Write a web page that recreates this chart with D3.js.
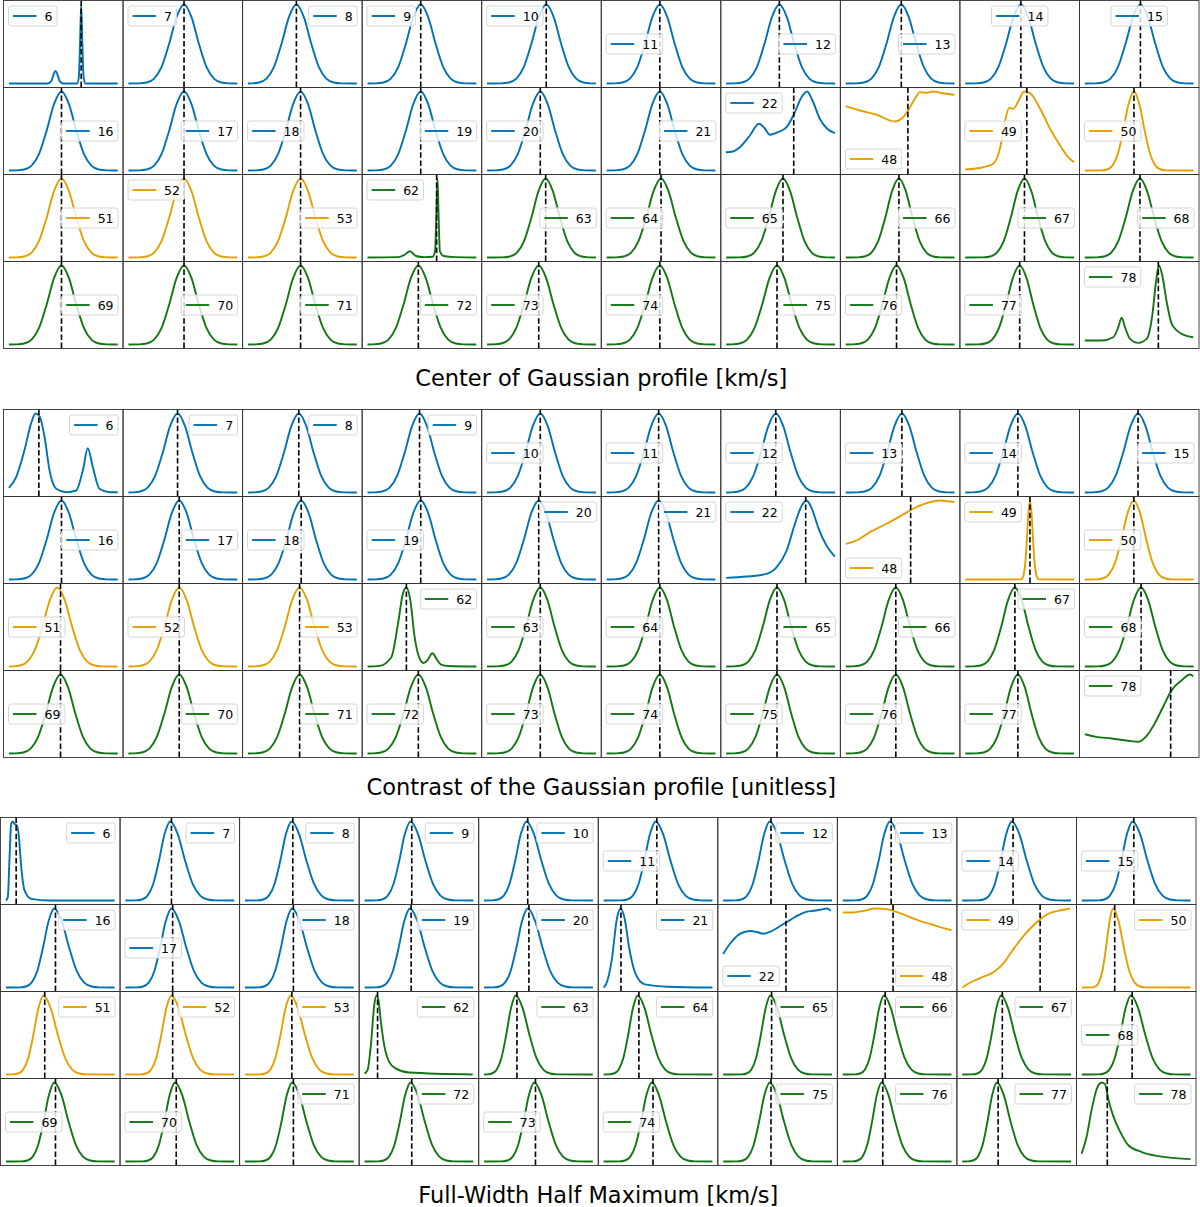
<!DOCTYPE html>
<html>
<head>
<meta charset="utf-8">
<script src="https://cdn.jsdelivr.net/npm/d3@7"></script>
<style>
  body { margin: 0; background: #fff; }
  svg { display: block; }
  text { font-family: "DejaVu Sans", sans-serif; }
</style>
</head>
<body>
<svg id="fig" width="1200" height="1207"></svg>
<script>
'use strict';

// panel labels, row by row (4 rows x 10 columns), same in each block
const labels = [6, 7, 8, 9, 10, 11, 12, 13, 14, 15,
                16, 17, 18, 19, 20, 21, 22, 48, 49, 50,
                51, 52, 53, 62, 63, 64, 65, 66, 67, 68,
                69, 70, 71, 72, 73, 74, 75, 76, 77, 78];

const titles = ["Center of Gaussian profile [km/s]",
                "Contrast of the Gaussian profile [unitless]",
                "Full-Width Half Maximum [km/s]"];

// shape of a single peak (offset in half widths -> height)
const bellOffset = [-3, -2.5, -2, -1.5, -1, -0.5, 0, 0.5, 1, 1.5, 2, 2.5, 3];
const bellHeight = [0.002, 0.013, 0.062, 0.21, 0.5, 0.84, 1, 0.84, 0.5, 0.21, 0.062, 0.013, 0.002];

// ---- Center of Gaussian profile ----  (x in % of the panel axis, y = height above zero)
const centerPeak = [null, 51, 45, 49, 54, 49, 49, 51, 51, 51,
                    48.5, 51, 48.5, 49, 49, 49, null, null, null, 45.6,
                    48.5, 51, 48.5, null, 53.5, 50, 52, 49, 54, 50.6,
                    48.5, 51, 48.5, 47, 47.7, 49, 47, 47, 50, null];
const centerLine = [65, 51, 45, 49, 54, 49, 49, 51, 51, 51,
                    48.5, 51, 48.5, 49, 49, 49, 61, 56.5, 56, 45.6,
                    48.5, 51, 48.5, 62.3, 53.5, 50, 52, 49, 54, 50.6,
                    48.5, 51, 48.5, 47, 47.7, 49, 47, 47, 50, 66];
const centerWidth = [0, 12.5, 12.5, 12.5, 12.5, 12.5, 12.5, 12.5, 12.5, 12.5,
                     12.5, 12.5, 12.5, 12.5, 12.5, 12.5, 0, 0, 0, 9,
                     12.5, 12.5, 12.5, 0, 12, 12.5, 12, 11.5, 11.5, 12,
                     12.5, 12.5, 12.5, 12.5, 12.5, 12.5, 12.5, 12, 11.5, 0];
const centerLegend = ['ul', 'ul', 'ur', 'ul', 'ul', 'cl', 'cr', 'cr', 'uc', 'uc',
                      'cr', 'cr', 'cl', 'cr', 'cl', 'cr', 'ul', 'll', 'cl', 'cl',
                      'cr', 'ul', 'cr', 'ul', 'cr', 'cl', 'cl', 'cr', 'cr', 'cr',
                      'cr', 'cr', 'cr', 'cr', 'cl', 'cl', 'cr', 'cl', 'cl', 'ul'];
const center6 = [[4.5, 0], [37, 0], [40, 0.03], [42, 0.12], [43.5, 0.16], [45, 0.12], [47, 0.03], [50, 0],
                 [61.5, 0], [63, 0.08], [64, 0.5], [65, 1], [66, 0.5], [67, 0.08], [68.5, 0], [95.5, 0]];
const center22 = [[4.2, 18.3], [10, 19], [15.9, 23.3], [24.3, 35], [32, 46.7], [36.8, 42], [41, 35.7], [47.7, 38.3],
                  [55, 43.3], [61, 55.7], [67.5, 73.3], [72.2, 79], [76.7, 70], [82.8, 51.7], [89, 41.7], [95.4, 37.3]];
const center48 = [[4.5, 64.3], [16.3, 60], [30.3, 55.7], [45.6, 49], [51.2, 51.7], [56.7, 60], [62.3, 71.7], [66.5, 78.3],
                  [72.1, 77.7], [77.7, 79], [83.3, 77.7], [88.9, 76.7], [95.5, 75.7]];
const center49 = [[4.5, 1], [19.5, 3.3], [27.9, 6.7], [33.5, 21.7], [37.7, 48.3], [41.3, 62.3], [44.6, 61], [48.8, 68.3],
                  [53.6, 78.3], [58.6, 76.7], [66.9, 61.7], [75.3, 41.7], [83.7, 25], [90.6, 13.3], [95.5, 8.3]];
const center62 = [[4.5, 0], [30, 0.005], [35, 0.03], [40, 0.08], [45, 0.02], [52, 0.005], [59, 0.01], [61, 0.08],
                  [62, 0.5], [63, 1], [64, 0.5], [65, 0.08], [68, 0.02], [78, 0.005], [95.5, 0]];
const center78 = [[4.5, 4], [18.6, 4], [28.3, 7.3], [32.5, 17.3], [35.3, 26.7], [38.1, 17.3], [42.3, 5.7], [49.2, 1.7],
                  [56.2, 5.7], [60.9, 29], [64, 62.3], [66.5, 79], [69.3, 69], [73, 42.3], [77.2, 20.7], [85.5, 10.7], [95.2, 7.3]];

// ---- Contrast of the Gaussian profile ----
const contrastPeak = [null, 45.6, 47, 48, 49, 48, 46, 51.5, 48.5, 49,
                      48.5, 47, 49, 49, 47.7, 48, null, null, 58.6, 45.5,
                      45, 47, 47.7, null, 49, 49, 47, 46.4, 46, 51.5,
                      47.7, 47, 47.7, 47, 49, 49, 47, 46.4, 48.5, null];
const contrastLine = [29.6, 45.6, 47, 48, 49, 48, 46, 51.5, 48.5, 49,
                      48.5, 47, 49, 49, 47.7, 48, 71, 58.8, 58.6, 45.5,
                      47.7, 47, 47.7, 37, 49, 49, 47, 46.4, 46, 51.5,
                      47.7, 47, 47.7, 47, 49, 49, 47, 46.4, 48.5, 76.3];
const contrastWidth = [0, 12.5, 12.5, 12.5, 12.5, 12.5, 12.5, 12.5, 12.5, 12.5,
                       12.5, 12.5, 12.5, 12.5, 12.5, 12.5, 0, 0, 2.6, 10.5,
                       12.5, 12.5, 12.5, 0, 12, 12, 12, 12, 11.5, 12,
                       12.5, 12.5, 12.5, 12.5, 12, 12, 12, 12, 11.5, 0];
const contrastLegend = ['ur', 'ur', 'ur', 'ur', 'cl', 'cl', 'cl', 'cl', 'cl', 'cr',
                        'cr', 'cr', 'cl', 'cl', 'ur', 'ur', 'ul', 'll', 'ul', 'cl',
                        'cl', 'cl', 'cr', 'ur', 'cl', 'cl', 'cr', 'cr', 'ur', 'cl',
                        'cl', 'cr', 'cr', 'cl', 'cl', 'cl', 'cl', 'cl', 'cl', 'ul'];
const contrast6 = [[4.5, 4.7], [10.6, 15.3], [17.6, 42], [23.2, 68.7], [26.8, 78], [30.1, 75.3], [34.3, 55.3], [38.5, 22],
                   [44.1, 3.7], [52.5, 0.3], [60.8, 2], [66.4, 22], [70.5, 43.7], [74.7, 25.3], [80.3, 3.7], [88.7, 0.3], [95.5, 0.3]];
const contrast22 = [[4.5, 1.7], [21.5, 3], [38.2, 5.7], [46.6, 12.3], [55, 29], [61.9, 55.7], [67.5, 74], [71.7, 79.7],
                    [75.9, 72.3], [81.5, 52.3], [88.5, 34], [95.4, 23]];
const contrast48 = [[4.6, 35.7], [13.5, 39], [24.7, 47.3], [38.7, 55.7], [52.6, 65], [60.9, 70.7], [72.1, 76.3],
                    [83.3, 79], [95.5, 77.3]];
const contrast62 = [[4.5, 0], [14.6, 0.7], [24.4, 9.3], [30, 42.7], [34.1, 72.7], [37, 78.7], [40.3, 66], [43.9, 29.3],
                    [48.1, 8], [51.5, 3.5], [55, 7], [58.7, 13.3], [62.5, 7], [66, 2], [72, 0.5], [95.5, 0]];
const contrast78 = [[4.5, 19.7], [13, 17.3], [27, 15.3], [40.8, 13], [49.2, 12], [56.2, 18], [63.2, 31.3], [70.1, 48],
                    [77.2, 64.7], [85.5, 74.7], [92.5, 80.7], [95.2, 78.7]];

// ---- Full-Width Half Maximum ----
const fwhmPeak = [null, 42, 43.5, 43, 40, 48, 43.5, 44, 46, 47,
                  45, 43, 44, 42.5, 41, null, null, null, null, 30.7,
                  36, 43, 42.7, null, 31, 33, 44, 39, 37, 45.6,
                  45, 46, 44, 43, 46.5, 44.8, 43.5, 37, 33.5, null];
const fwhmLine = [13.1, 43, 44.5, 44, 41, 49, 44.5, 45, 47, 48,
                  46, 44, 45, 43.5, 42, 19, 57, 46.6, 69.6, 32,
                  37, 44, 43.7, 15.4, 32, 34, 45, 40, 38, 46.6,
                  46, 47, 45, 44, 47.5, 45.8, 44.5, 38, 34.5, 25.8];
const fwhmWidthL = [0, 9.5, 9.5, 9.5, 9.5, 9.5, 9.5, 9.5, 9.5, 9.5,
                    9.5, 9.5, 9.5, 9.5, 9.5, 0, 0, 0, 0, 6,
                    8.5, 8.5, 8.5, 0, 8, 8, 8, 8, 8, 9,
                    9, 9, 9, 9, 9, 9, 9, 8, 8, 0];
const fwhmWidthR = [0, 12.5, 12.5, 12.5, 12.5, 12.5, 12.5, 12.5, 12.5, 12.5,
                    12.5, 12.5, 12.5, 12.5, 12.5, 0, 0, 0, 0, 9,
                    12, 12, 12, 0, 11.5, 11.5, 11.5, 11.5, 11.5, 12,
                    12, 12, 12, 12, 12, 12, 12, 11.5, 11.5, 0];
const fwhmLegend = ['ur', 'ur', 'ur', 'ur', 'ur', 'cl', 'ur', 'ur', 'cl', 'cl',
                    'ur', 'cl', 'ur', 'ur', 'ur', 'ur', 'll', 'lr', 'ul', 'ur',
                    'ur', 'ur', 'ur', 'ur', 'ur', 'ur', 'ur', 'ur', 'ur', 'cl',
                    'cl', 'cl', 'ur', 'ur', 'cl', 'cl', 'ur', 'ur', 'ur', 'ur'];
const fwhm6 = [[4.5, 0], [6.1, 10], [7.5, 120], [8.9, 225], [10.3, 232], [11.7, 225], [13.7, 220], [15.3, 190],
               [17.3, 100], [20.1, 30], [25.7, 5], [41, 0], [95.4, 0]];
const fwhm21 = [[4.5, 0], [6.5, 0.04], [11.4, 0.36], [15.6, 0.87], [18.8, 1], [22.1, 0.87], [26, 0.49], [30.8, 0.19],
                [39, 0.04], [58.4, 0.01], [95.5, 0]];
const fwhm22 = [[4.5, 100], [10.2, 130], [16.6, 155], [22.3, 165], [27.7, 168], [32.5, 165], [38.2, 160], [45.2, 168],
                [53.2, 185], [61.1, 202], [67.5, 215], [73.9, 225], [80.3, 228], [86.6, 232], [91.4, 235], [94.6, 228]];
const fwhm48 = [[4.5, 220], [13, 220], [22, 225], [31.5, 232], [41, 230], [47, 225], [57, 212], [69.5, 195],
                [79, 185], [88, 175], [95.5, 168]];
const fwhm49 = [[4.5, 0], [11.2, 15], [20.8, 30], [30.4, 45], [38.5, 70], [46.5, 110], [56.1, 155], [64.1, 185],
                [70.5, 205], [76.9, 220], [84.9, 228], [94.6, 235]];
const fwhm62 = [[4.5, 3], [7, 13], [9.8, 88], [12.6, 208], [14.5, 238], [16.2, 223], [18.2, 158], [21, 88],
                [25.1, 38], [30.7, 18], [41.9, 6], [95, 0]];
const fwhm78 = [[4.3, 23], [8.5, 73], [12.7, 153], [16.9, 213], [21.1, 233], [23.9, 228], [26.7, 183], [30.9, 133],
                [36.5, 88], [43.4, 48], [54.6, 28], [68.6, 16], [82.5, 10], [95.5, 7]];

const groupColor = d => d <= 22 ? "#0072b2" : (d <= 53 ? "#e69f00" : "#137513");

const blocks = [
  {title: titles[0], peak: centerPeak, line: centerLine, wl: centerWidth, wr: centerWidth, legend: centerLegend,
   special: {6: center6, 22: center22, 48: center48, 49: center49, 62: center62, 78: center78},
   left: 3.5, top: 0.5, titleY: 386},
  {title: titles[1], peak: contrastPeak, line: contrastLine, wl: contrastWidth, wr: contrastWidth, legend: contrastLegend,
   special: {6: contrast6, 22: contrast22, 48: contrast48, 62: contrast62, 78: contrast78},
   left: 3.5, top: 409.5, titleY: 795},
  {title: titles[2], peak: fwhmPeak, line: fwhmLine, wl: fwhmWidthL, wr: fwhmWidthR, legend: fwhmLegend,
   special: {6: fwhm6, 21: fwhm21, 22: fwhm22, 48: fwhm48, 49: fwhm49, 62: fwhm62, 78: fwhm78},
   left: 0.5, top: 817.5, titleY: 1203}
];

const colW = 119.55, rowH = 87;

function bellPoints(peak, wl, wr) {
  const pts = [[4.5, 0]];
  bellOffset.forEach((t, k) => {
    const xv = peak + t * (t < 0 ? wl : wr);
    if (xv > 4.5 && xv < 95.5) pts.push([xv, bellHeight[k]]);
  });
  pts.push([95.5, 0]);
  return pts;
}

const svg = d3.select("#fig");

function drawLegend(pg, loc, label, color, x0, y0) {
  const lg = pg.append("g");
  const box = lg.append("rect");
  const txt = lg.append("text")
      .attr("font-size", 12.5)
      .attr("fill", "#000")
      .attr("dominant-baseline", "central")
      .text(label);
  const tw = txt.node().getComputedTextLength();
  const bw = 4.5 + 23.5 + 8 + tw + 4.5, bh = 20;
  let bx, by;
  if (loc[1] === "l") bx = x0 + 5;
  else if (loc[1] === "r") bx = x0 + colW - 5 - bw;
  else bx = x0 + colW / 2 - bw / 2;
  if (loc[0] === "u") by = y0 + 5.5;
  else if (loc[0] === "l") by = y0 + rowH - 5.5 - bh;
  else by = y0 + rowH / 2 - bh / 2;
  box.attr("x", bx).attr("y", by).attr("width", bw).attr("height", bh)
     .attr("rx", 2.5)
     .attr("fill", "#fff").attr("fill-opacity", 0.8)
     .attr("stroke", "#d6d6d6").attr("stroke-width", 1);
  lg.append("line")
    .attr("x1", bx + 4.5).attr("x2", bx + 28)
    .attr("y1", by + bh / 2).attr("y2", by + bh / 2)
    .attr("stroke", color).attr("stroke-width", 1.9);
  txt.attr("x", bx + 36).attr("y", by + bh / 2 + 0.5);
}

blocks.forEach(b => {
  const bg = svg.append("g").attr("class", "block");
  labels.forEach((lab, i) => {
    const c = i % 10, r = Math.floor(i / 10);
    const x0 = b.left + c * colW, y0 = b.top + r * rowH;
    const pg = bg.append("g").attr("class", "panel");
    const color = groupColor(lab);

    const pts = b.special[lab] || bellPoints(b.peak[i], b.wl[i], b.wr[i]);
    // y axis runs from zero to the highest point, with 5% margins
    const ymax = d3.max(pts, d => d[1]);
    const xs = d3.scaleLinear().domain([0, 100]).range([x0, x0 + colW]);
    const ys = d3.scaleLinear().domain([-0.05 * ymax, 1.05 * ymax]).range([y0 + rowH, y0]);

    const line = d3.line()
        .x(d => xs(d[0]))
        .y(d => ys(d[1]))
        .curve(d3.curveMonotoneX);

    pg.append("path")
      .datum(pts)
      .attr("d", line)
      .attr("fill", "none")
      .attr("stroke", color)
      .attr("stroke-width", 1.9)
      .attr("stroke-linejoin", "round");

    pg.append("line")
      .attr("x1", xs(b.line[i])).attr("x2", xs(b.line[i]))
      .attr("y1", y0).attr("y2", y0 + rowH)
      .attr("stroke", "#000")
      .attr("stroke-width", 1.6)
      .attr("stroke-dasharray", "5.5,2.6");

    drawLegend(pg, b.legend[i], String(lab), color, x0, y0);

    pg.append("rect")
      .attr("x", x0).attr("y", y0)
      .attr("width", colW).attr("height", rowH)
      .attr("fill", "none")
      .attr("stroke", "#333")
      .attr("stroke-width", 0.9);
  });

  svg.append("text")
    .attr("x", b.left + colW * 5)
    .attr("y", b.titleY)
    .attr("text-anchor", "middle")
    .attr("font-size", 22.5)
    .attr("fill", "#000")
    .text(b.title);
});
</script>
</body>
</html>
